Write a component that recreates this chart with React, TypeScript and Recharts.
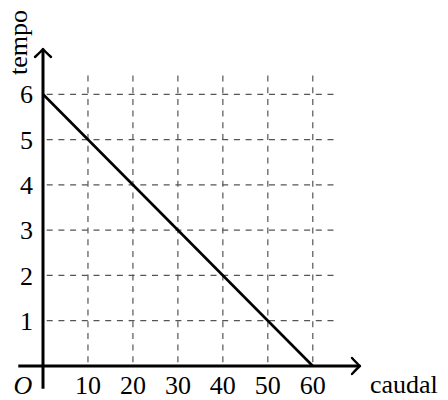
import { LineChart, Line, XAxis, YAxis, ReferenceLine, Label } from 'recharts';

const caudal = [0, 60];
const tempo = [6, 0];
const xTicks = [0, 10, 20, 30, 40, 50, 60];
const yTicks = [1, 2, 3, 4, 5, 6];
const gridX = [10, 20, 30, 40, 50, 60];
const gridY = [1, 2, 3, 4, 5, 6];
const xLabel = 'caudal';
const yLabel = 'tempo';
const originLabel = 'O';

const data = caudal.map((c, i) => ({ caudal: c, tempo: tempo[i] }));

const FONT = '"Liberation Serif", "DejaVu Serif", serif';

function ArrowLine(props: any) {
  const { x1, y1, x2, y2 } = props;
  const len = Math.hypot(x2 - x1, y2 - y1) || 1;
  const dx = (x2 - x1) / len;
  const dy = (y2 - y1) / len;
  const nx = -dy;
  const ny = dx;
  const pt = (back: number, side: number) => `${x2 - dx * back + nx * side},${y2 - dy * back + ny * side}`;
  return (
    <g>
      <line x1={x1} y1={y1} x2={x2 - dx * 1} y2={y2 - dy * 1} stroke="#000" strokeWidth={3} />
      <path
        d={`M${pt(8, 8)} Q${pt(2.5, 2)} ${pt(0, 0)} Q${pt(2.5, -2)} ${pt(8, -8)}`}
        fill="none"
        stroke="#000"
        strokeWidth={2.4}
        strokeLinecap="round"
        strokeLinejoin="round"
      />
    </g>
  );
}

function XTick(props: any) {
  const { x, y, payload } = props;
  if (payload.value === 0) {
    return (
      <text x={x - 20} y={y + 19} dy="0.35em" textAnchor="middle" fontFamily={FONT} fontStyle="italic" fontSize={26} fill="#000">
        {originLabel}
      </text>
    );
  }
  return (
    <text x={x} y={y + 19} dy="0.35em" textAnchor="middle" fontFamily={FONT} fontSize={26} fill="#000">
      {payload.value}
    </text>
  );
}

function YTick(props: any) {
  const { x, y, payload } = props;
  return (
    <text x={x - 10} y={y} dy="0.35em" textAnchor="end" fontFamily={FONT} fontSize={26} fill="#000">
      {payload.value}
    </text>
  );
}

export default function App() {
  return (
    <div style={{ position: 'absolute', left: 0, top: 0, width: 448, height: 400, background: '#fff' }}>
      <LineChart width={448} height={400} data={data} margin={{ top: 49, right: 88, bottom: 4, left: 13 }}>
        <XAxis
          type="number"
          dataKey="caudal"
          domain={[0, 70.5]}
          ticks={xTicks}
          axisLine={false}
          tickLine={false}
          tickSize={0}
          tickMargin={0}
          height={30}
          tick={<XTick />}
          interval={0}
        >
          <Label
            content={(p: any) => {
              const vb = p.viewBox || { x: 43, y: 366, width: 317 };
              return (
                <text x={vb.x + vb.width + 10} y={vb.y + 27} fontFamily={FONT} fontSize={26} fill="#000">
                  {xLabel}
                </text>
              );
            }}
          />
        </XAxis>
        <YAxis
          type="number"
          domain={[0, 7]}
          ticks={yTicks}
          axisLine={false}
          tickLine={false}
          tickSize={0}
          tickMargin={0}
          width={30}
          tick={<YTick />}
          interval={0}
        >
          <Label
            content={(p: any) => {
              const vb = p.viewBox || { x: 13, y: 49 };
              const cx = vb.x + 14;
              const cy = vb.y - 6.5;
              return (
                <text x={cx} y={cy} transform={`rotate(-90 ${cx} ${cy})`} textAnchor="middle" fontFamily={FONT} fontSize={26} fill="#000">
                  {yLabel}
                </text>
              );
            }}
          />
        </YAxis>
        {gridX.map((gx) => (
          <ReferenceLine
            key={'gx' + gx}
            segment={[{ x: gx, y: 0 }, { x: gx, y: 6.5 }]}
            stroke="#555"
            strokeWidth={1.2}
            strokeDasharray="6 5.7"
            strokeDashoffset={-3.7}
            ifOverflow="visible"
          />
        ))}
        {gridY.map((gy) => (
          <ReferenceLine
            key={'gy' + gy}
            segment={[{ x: 0, y: gy }, { x: 65.5, y: gy }]}
            stroke="#555"
            strokeWidth={1.2}
            strokeDasharray="6 5.7"
            strokeDashoffset={-3.7}
            ifOverflow="visible"
          />
        ))}
        <ReferenceLine segment={[{ x: -5.5, y: 0 }, { x: 70.5, y: 0 }]} ifOverflow="visible" shape={ArrowLine} />
        <ReferenceLine segment={[{ x: 0, y: -0.5 }, { x: 0, y: 7 }]} ifOverflow="visible" shape={ArrowLine} />
        <Line
          type="linear"
          dataKey="tempo"
          stroke="#000"
          strokeWidth={2.6}
          dot={false}
          activeDot={false}
          isAnimationActive={false}
        />
      </LineChart>
    </div>
  );
}
